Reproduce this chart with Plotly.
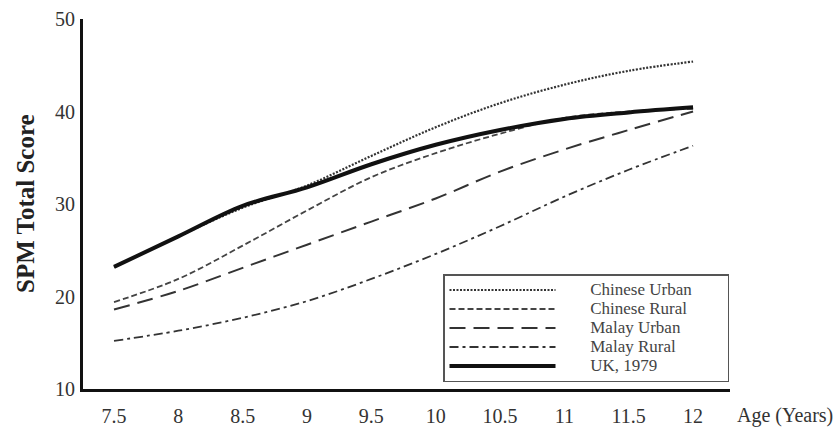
import plotly.graph_objects as go

ages = [7.5, 8.0, 8.5, 9.0, 9.5, 10.0, 10.5, 11.0, 11.5, 12.0]
chinese_urban = [23.2, 26.5, 29.6, 32.0, 35.2, 38.3, 40.9, 42.9, 44.4, 45.4]
chinese_rural = [19.4, 21.9, 25.5, 29.3, 32.9, 35.5, 37.6, 39.3, 40.0, 40.3]
malay_urban = [18.6, 20.6, 23.1, 25.6, 28.1, 30.6, 33.5, 35.9, 38.0, 40.0]
malay_rural = [15.2, 16.3, 17.7, 19.5, 21.9, 24.6, 27.6, 30.8, 33.7, 36.3]
uk_1979 = [23.2, 26.5, 29.8, 31.8, 34.3, 36.4, 38.0, 39.2, 39.9, 40.45]

x_ticks = [7.5, 8, 8.5, 9, 9.5, 10, 10.5, 11, 11.5, 12]
x_tick_text = ["7.5", "8", "8.5", "9", "9.5", "10", "10.5", "11", "11.5", "12"]
y_ticks = [10, 20, 30, 40, 50]

series = [
    ("Chinese Urban", chinese_urban, dict(color="#333333", width=2.2, dash="2px,1.5px")),
    ("Chinese Rural", chinese_rural, dict(color="#444444", width=1.8, dash="6px,3px")),
    ("Malay Urban", malay_urban, dict(color="#333333", width=2.0, dash="16px,8px")),
    ("Malay Rural", malay_rural, dict(color="#333333", width=1.8, dash="9px,4px,3px,4px")),
    ("UK, 1979", uk_1979, dict(color="#111111", width=4)),
]

pad = "\u00a0" * 7
tail = "\u00a0" * 7
fig = go.Figure()
for i, (name, vals, line) in enumerate(series):
    label = pad + name + (tail if i == 0 else "")
    fig.add_trace(go.Scatter(
        x=ages, y=vals, mode="lines",
        name='<span style="font-size:17px">' + label + "</span>",
        line=dict(shape="spline", smoothing=1.0, **line),
    ))

serif = "Liberation Serif, Times New Roman, serif"
fig.update_layout(
    width=840, height=428,
    margin=dict(l=83, r=110, t=19, b=39),
    paper_bgcolor="white", plot_bgcolor="white",
    font=dict(family=serif, size=20, color="#333333"),
    showlegend=True,
    legend=dict(
        x=(443 - 83) / 647, y=(389 - 274) / 370, xanchor="left", yanchor="top",
        bgcolor="white", bordercolor="#555555", borderwidth=1.5,
        font=dict(family=serif, size=12, color="#444444"),
        itemwidth=106, tracegroupgap=0,
    ),
    xaxis=dict(
        range=[7.259, 12.287], tickmode="array", tickvals=x_ticks, ticktext=x_tick_text,
        showgrid=False, zeroline=False, showline=True, linecolor="#111111", linewidth=3,
        ticks="", ticklabelstandoff=7, automargin=False,
    ),
    yaxis=dict(
        range=[10, 50], tickmode="array", tickvals=y_ticks,
        showgrid=False, zeroline=False, showline=True, linecolor="#111111", linewidth=3,
        ticks="", ticklabelstandoff=1, automargin=False,
    ),
    annotations=[
        dict(text="<b>SPM Total Score</b>", xref="paper", yref="paper", x=-(83 - 25) / 647, y=0.5,
             textangle=-90, showarrow=False, font=dict(family=serif, size=25, color="#222222"),
             xanchor="center", yanchor="middle"),
        dict(text="Age (Years)", xref="paper", yref="paper", x=(735 - 83) / 647, y=-(416 - 389) / 370,
             showarrow=False, xanchor="left", yanchor="middle",
             font=dict(family=serif, size=20, color="#333333")),
    ],
)

fig.write_html("out.html")
